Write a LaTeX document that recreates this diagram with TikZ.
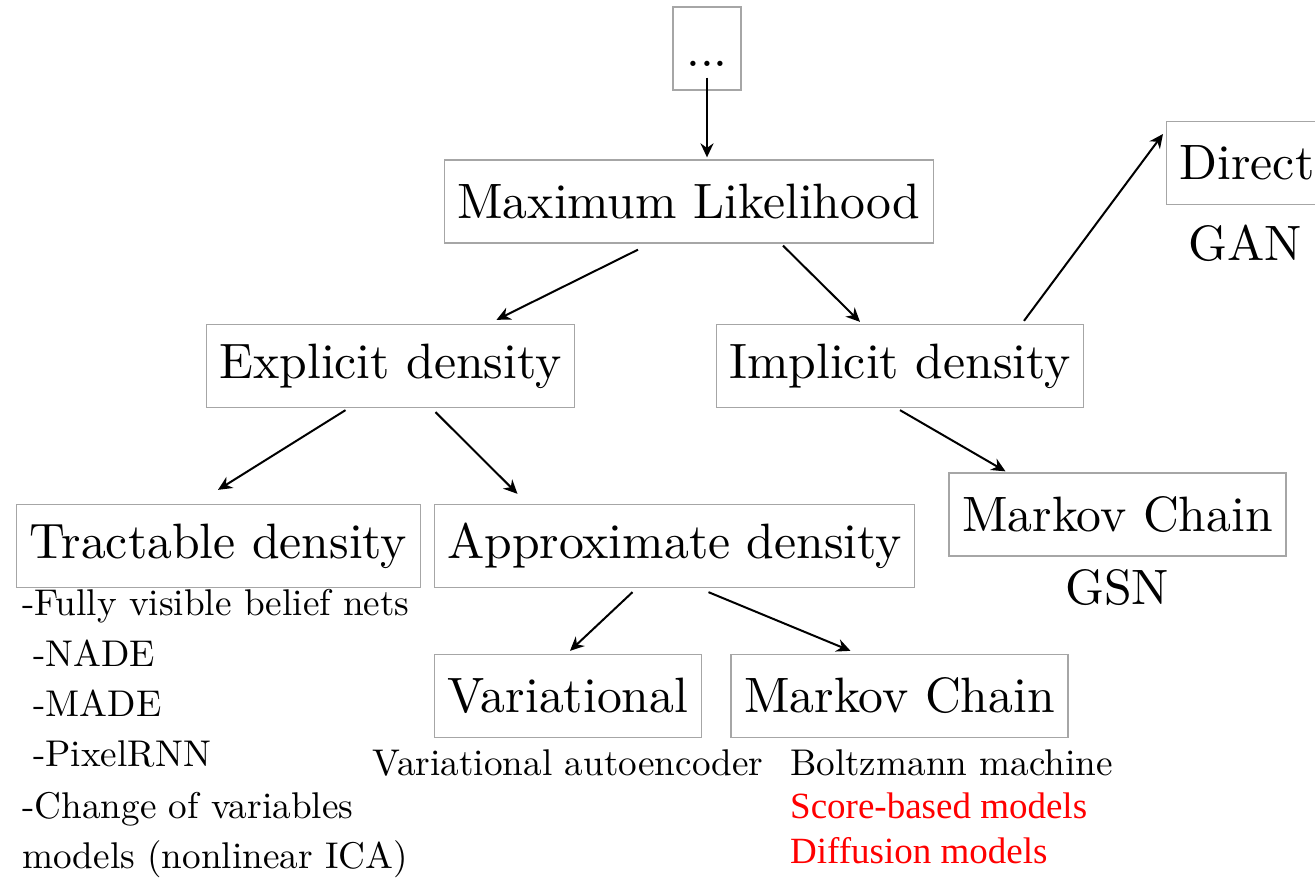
\documentclass[tikz,border=0pt]{standalone}
\usepackage{fontspec}
\usetikzlibrary{arrows.meta}
\setmainfont{lmroman10-regular}[Extension=.otf]
\newfontfamily\redfont{Liberation Serif}

\begin{document}
\begin{tikzpicture}[x=1pt, y=-1pt,
    box/.style={draw=black!35, line width=1.3pt, inner xsep=13pt, minimum height=83pt,
                font=\fontsize{49.7}{60}\selectfont},
    big/.style={font=\fontsize{49.7}{60}\selectfont, inner sep=0pt},
    small/.style={font=\fontsize{37.2}{44}\selectfont, inner sep=0pt, anchor=west,
                  text height=25pt, text depth=8pt},
    red/.style={text=red, font=\redfont\fontsize{37}{44}\selectfont},
    arr/.style={-{Stealth[length=14pt, width=13pt]}, line width=2pt}]

    % Rahmen
    \useasboundingbox (0, 0) rectangle (1315, 880);

    % Kaesten
    \node[box, minimum width=68pt, inner xsep=0pt] (dots) at (707, 48.5) {\raisebox{-36pt}{...}};
    \node[box] (ml) at (689, 201.5) {Maximum Likelihood};
    \node[box] (exp) at (390.5, 366) {Explicit density};
    \node[box] (imp) at (900, 366) {Implicit density};
    \node[box, anchor=west] (direct) at (1166, 163) {Direct};
    \node[box] (tract) at (218.5, 546) {Tractable density};
    \node[box] (approx) at (674.5, 546) {Approximate density};
    \node[box] (mcr) at (1117.5, 514.5) {Markov Chain};
    \node[box] (var) at (568, 696) {Variational};
    \node[box] (mcb) at (899.5, 696) {Markov Chain};

    % Beispiele
    \node[big] (gan) at (1245, 243) {GAN};
    \node[big] (gsn) at (1117, 588) {GSN};
    \node[small, anchor=center] (vae) at (568, 767) {Variational autoencoder};
    \node[small] (boltz) at (790, 767) {Boltzmann machine};
    \node[small, red] (score) at (790, 810) {Score-based models};
    \node[small, red] (diff) at (790, 855) {Diffusion models};

    % Liste links
    \node[small] (fvbn) at (22, 607) {-Fully visible belief nets};
    \node[small] (nade) at (33, 658) {-NADE};
    \node[small] (made) at (33, 708) {-MADE};
    \node[small] (pix) at (33, 758) {-PixelRNN};
    \node[small] (cov) at (22, 810) {-Change of variables};
    \node[small] (ica) at (22, 860) {models (nonlinear ICA)};

    % Pfeile
    \draw[arr] ([yshift=13pt]dots.south) -- ([xshift=18pt, yshift=2pt]ml.north);
    \draw[arr] ([xshift=-51pt, yshift=-6pt]ml.south) -- ([xshift=106pt, yshift=4pt]exp.north);
    \draw[arr] ([xshift=94pt, yshift=-2pt]ml.south) -- ([xshift=-40pt, yshift=2pt]imp.north);
    \draw[arr] ([xshift=124pt, yshift=3pt]imp.north) -- ([xshift=-3pt, yshift=29pt]direct.west);
    \draw[arr] ([xshift=-45pt, yshift=-2pt]exp.south) -- ([xshift=-0.5pt, yshift=14pt]tract.north);
    \draw[arr] ([xshift=45pt, yshift=-4pt]exp.south) -- ([xshift=-157pt, yshift=10pt]approx.north);
    \draw[arr] ([yshift=-2pt]imp.south) -- ([xshift=-112pt, yshift=1pt]mcr.north);
    \draw[arr] ([xshift=-42pt, yshift=-4pt]approx.south) -- ([xshift=2pt, yshift=3pt]var.north);
    \draw[arr] ([xshift=34pt, yshift=-4pt]approx.south) -- ([xshift=-49pt, yshift=3pt]mcb.north);

\end{tikzpicture}
\end{document}
